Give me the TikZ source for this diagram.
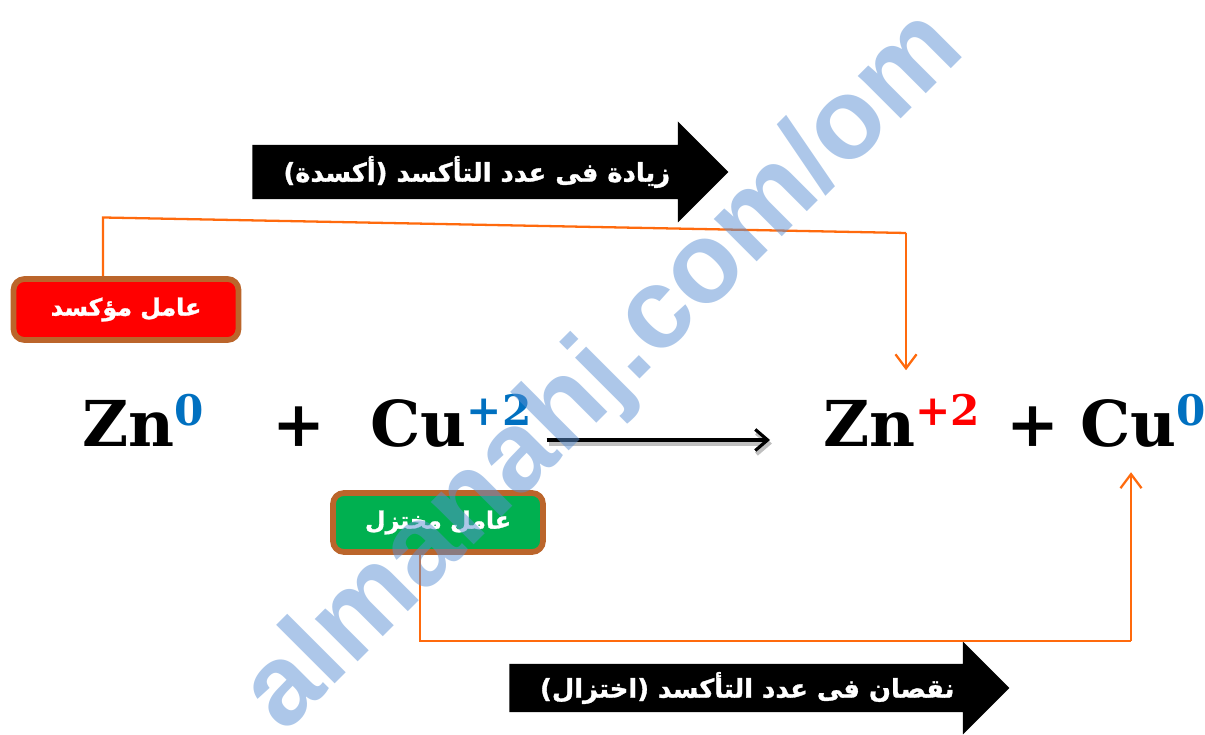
\documentclass[tikz,border=0pt]{standalone}
\usepackage{fontspec}
\usetikzlibrary{calc, positioning, arrows.meta, shapes.arrows}
\TeXXeTstate=1
\newfontfamily\arabicfont[Script=Arabic, BoldFeatures={FakeBold=1.2}]{DejaVu Sans}
\newfontfamily\termfont{DejaVu Serif}
\setsansfont{Liberation Sans}
\definecolor{color_link}{HTML}{FF6A0D}
\definecolor{color_border}{HTML}{BB652B}
\definecolor{color_ox}{HTML}{FF0000}
\definecolor{color_red}{HTML}{00B050}
\definecolor{color_state}{HTML}{0070C0}
\definecolor{color_mark}{HTML}{5B90D3}
\newcommand{\oxstate}[2]{\textcolor{#1}{\raisebox{12pt}{\fontsize{24}{24}\selectfont #2}}}
\tikzset{
  term_node/.style={font=\termfont\bfseries\fontsize{36}{36}\selectfont, text=black, anchor=base west, inner xsep=0pt, inner ysep=0.48cm},
  agent_box/.style={draw=color_border, line width=0.115cm, rounded corners=0.22cm, text=white, font=\arabicfont\bfseries\fontsize{13.5}{16}\selectfont},
  change_arrow/.style={single arrow, fill=black, text=white, anchor=tail, inner xsep=0pt, single arrow tip angle=90, font=\arabicfont\bfseries\fontsize{14.7}{16}\selectfont},
  link_arrow/.style={draw=color_link, line width=1.3pt, -{Straight Barb[length=8pt, width=12pt]}},
  reaction_arrow/.style={-{Straight Barb[length=7pt, width=12pt]}, draw=black, line width=1.8pt},
}
\begin{document}
\begin{tikzpicture}
    \useasboundingbox (0,0) rectangle (24.1,14.7);
    % Upper and lower black arrows
    \node[change_arrow, inner ysep=0.02cm, minimum height=9.52cm, minimum width=2.02cm, single arrow head extend=0.3cm] (gain_arrow) at (5.04,11.26) {\arabicfont\beginR زيادة فى عدد التأكسد (أكسدة)\endR};
    \node[change_arrow, inner ysep=0cm, minimum height=10cm, minimum width=1.86cm, single arrow head extend=0.3cm] (loss_arrow) at (10.18,0.94) {\arabicfont\beginR نقصان فى عدد التأكسد (اختزال)\endR};
    % The equation
    \node[term_node] (zn_left) at (1.64,5.76) {Zn\oxstate{color_state}{0}};
    \node[term_node] (plus_left) at (5.44,5.76) {+};
    \node[term_node] (cu_left) at (7.4,5.76) {Cu\oxstate{color_state}{+2}};
    \node[term_node] (zn_right) at (16.46,5.76) {Zn\oxstate{color_ox}{+2}};
    \node[term_node] (plus_right) at (20.12,5.76) {+};
    \node[term_node] (cu_right) at (21.6,5.76) {Cu\oxstate{color_state}{0}};
    % Agent boxes
    \node[agent_box, fill=color_ox, minimum width=4.5cm, minimum height=1.22cm] (agent_ox) at (2.52,8.51) {\beginR عامل مؤكسد\endR};
    \node[agent_box, fill=color_red, minimum width=4.2cm, minimum height=1.18cm] (agent_red) at (8.76,4.25) {\beginR عامل مختزل\endR};
    % Bends
    \coordinate (bend_a) at (2.06,10.35);
    \coordinate (bend_b) at (18.12,10.04);
    \coordinate (bend_c) at (8.4,1.88);
    \coordinate (bend_d) at (22.62,1.88);
    \coordinate (reaction_axis) at (0,5.9);
    \draw[link_arrow, -] (agent_ox.north -| bend_a) -- (bend_a) -- (bend_b);
    \draw[link_arrow] (bend_b) -- (zn_right.north -| bend_b);
    \draw[link_arrow, -] (agent_red.south -| bend_c) -- (bend_c) -- (bend_d);
    \draw[link_arrow] (bend_d) -- (cu_right.south -| bend_d);
    \draw[reaction_arrow, shorten <=0.3cm, shorten >=1.06cm,
      preaction={draw=black!25, line width=2.4pt, transform canvas={shift={(0.04,-0.07)}}}]
      (cu_left.east |- reaction_axis) -- (zn_right.west |- reaction_axis);
    % Watermark
    \node[font=\sffamily\bfseries\fontsize{65}{65}\selectfont, text=color_mark, text opacity=0.5, rotate=45, inner sep=0pt] (mark_site) at (12.1,7.25) {almanahj.com/om};
\end{tikzpicture}
\end{document}
